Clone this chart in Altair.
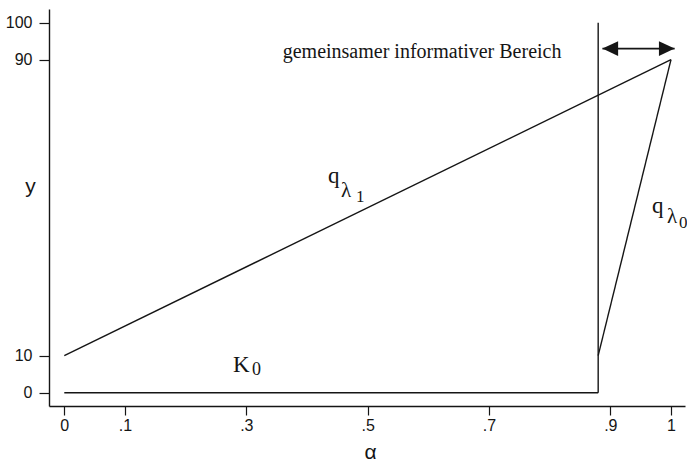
import altair as alt
import pandas as pd

# Axis ticks
alpha_ticks = [0, 0.1, 0.3, 0.5, 0.7, 0.9, 1]
y_ticks = [0, 10, 90, 100]

# Line segments: quantile curves, K0 and the boundary of the shared region
seg_name = ["q_lambda1", "q_lambda0", "K0", "boundary"]
seg_x0 = [0.0, 0.88, 0.0, 0.88]
seg_y0 = [10, 10, 0, 0]
seg_x1 = [1.0, 1.0, 0.88, 0.88]
seg_y1 = [90, 90, 0, 100]

# Double-headed arrow spanning the shared informative region
arrow_x = [0.887, 1.006]
arrow_y = [93, 93]
arrow_side = ["left", "right"]

# Annotation pieces (main symbol, subscript, sub-subscript)
label_text = ["q", "λ", "1", "q", "λ", "0", "K", "0"]
label_x = [0.4346, 0.4561, 0.4808, 0.9687, 0.9934, 1.0132, 0.278, 0.3094]
label_y = [56.7, 52.9, 51.5, 48.6, 45.9, 44.5, 5.6, 4.8]
label_size = [23, 21, 17, 23, 21, 17, 23, 18]

region_text = ["gemeinsamer informativer Bereich"]
region_x = [0.360]
region_y = [90.5]

INK = "#151515"
xs = alt.Scale(domain=[-0.0252, 1.0231], nice=False, zero=False)
ys = alt.Scale(domain=[-3.6, 103.7], nice=False, zero=False)

x_axis = alt.Axis(
    values=alpha_ticks,
    labelExpr="replace(format(datum.value, '.1~f'), '0.', '.')",
    title="α",
    titleFont="Liberation Sans",
    titleFontSize=21,
    titleFontWeight="normal",
    titleColor=INK,
    titleX=321,
    titleY=52,
    titleAlign="center",
    titleBaseline="alphabetic",
    labelFont="Liberation Sans",
    labelFontSize=16,
    labelColor=INK,
    labelPadding=2,
    tickSize=9,
    tickColor=INK,
    tickWidth=1.2,
    domainColor=INK,
    domainWidth=1.4,
    grid=False,
    labelFlush=False,
)
y_axis = alt.Axis(
    values=y_ticks,
    title="y",
    titleFont="Liberation Sans",
    titleFontSize=21,
    titleFontWeight="normal",
    titleColor=INK,
    titleAngle=0,
    titleX=-19,
    titleY=183,
    titleAlign="center",
    titleBaseline="alphabetic",
    labelFont="Liberation Sans",
    labelFontSize=16,
    labelColor=INK,
    labelPadding=7,
    tickSize=10,
    tickColor=INK,
    tickWidth=1.2,
    domainColor=INK,
    domainWidth=1.4,
    grid=False,
    labelFlush=False,
)

segments = pd.DataFrame(
    {"name": seg_name, "x0": seg_x0, "y0": seg_y0, "x1": seg_x1, "y1": seg_y1}
)
lines = alt.Chart(segments).mark_rule(color=INK, strokeWidth=1.4).encode(
    x=alt.X("x0:Q", scale=xs, axis=x_axis),
    y=alt.Y("y0:Q", scale=ys, axis=y_axis),
    x2="x1:Q",
    y2="y1:Q",
)

arrow = pd.DataFrame({"x": arrow_x, "y": arrow_y, "side": arrow_side})
shaft = alt.Chart(arrow).mark_line(color=INK, strokeWidth=1.6).encode(
    x=alt.X("x:Q", scale=xs), y=alt.Y("y:Q", scale=ys)
)
head_left = "M0,0L2,-0.95L2,0.95Z"
head_right = "M0,0L-2,-0.95L-2,0.95Z"
heads = alt.Chart(arrow).mark_point(filled=True, size=246, opacity=1, color=INK, strokeWidth=0).encode(
    x=alt.X("x:Q", scale=xs),
    y=alt.Y("y:Q", scale=ys),
    shape=alt.Shape(
        "side:N",
        scale=alt.Scale(domain=["left", "right"], range=[head_left, head_right]),
        legend=None,
    ),
)

labels = pd.DataFrame(
    {"text": label_text, "x": label_x, "y": label_y, "size": label_size}
)
label_marks = alt.Chart(labels).mark_text(
    font="Liberation Serif", align="left", baseline="alphabetic", color=INK
).encode(
    x=alt.X("x:Q", scale=xs),
    y=alt.Y("y:Q", scale=ys),
    text="text:N",
    size=alt.Size("size:Q", scale=None, legend=None),
)

region = pd.DataFrame({"text": region_text, "x": region_x, "y": region_y})
region_mark = alt.Chart(region).mark_text(
    font="Liberation Serif", fontSize=20, align="left", baseline="alphabetic", color=INK
).encode(x=alt.X("x:Q", scale=xs), y=alt.Y("y:Q", scale=ys), text="text:N")

chart = (
    alt.layer(lines, shaft, heads, label_marks, region_mark)
    .properties(
        width=636,
        height=397,
        autosize=alt.AutoSizeParams(type="none"),
        padding={"left": 49, "top": 9, "right": 2, "bottom": 55},
        background="white",
    )
    .configure_view(stroke=None)
)

chart.save("out.html", embed_options={"renderer": "svg", "actions": False})
